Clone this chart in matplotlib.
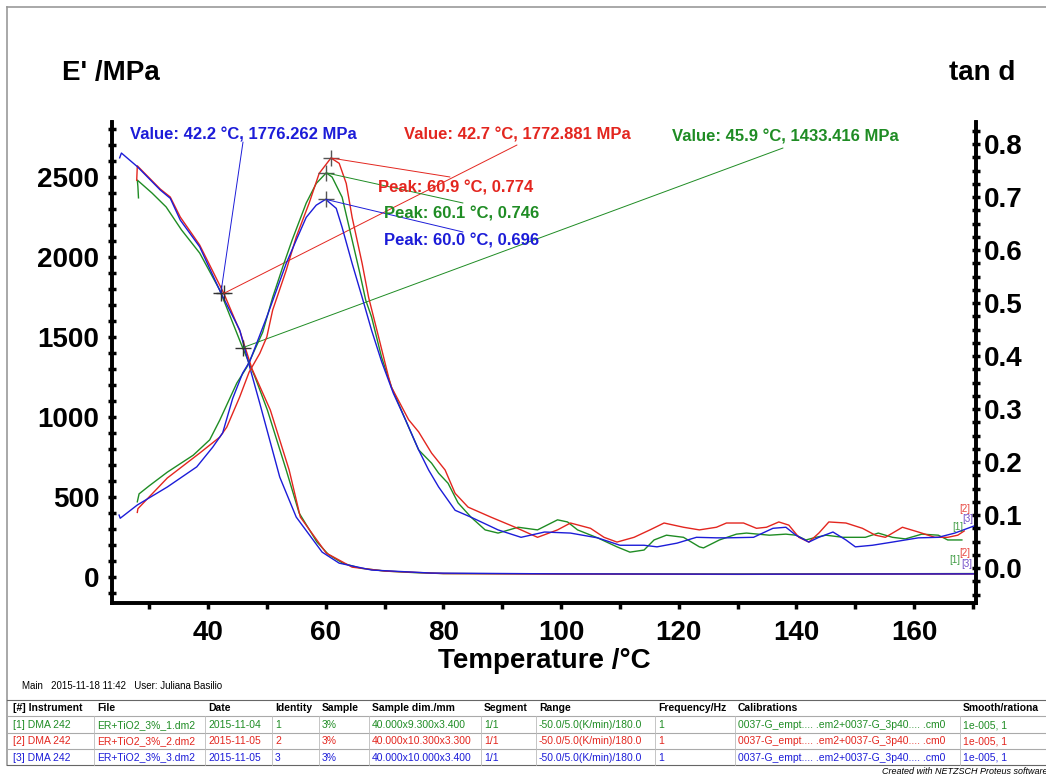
import numpy as np
import matplotlib
matplotlib.use("Agg")
import matplotlib.pyplot as plt
from matplotlib.lines import Line2D
from matplotlib.ticker import MultipleLocator

plt.rcParams['font.family'] = ['Liberation Sans', 'DejaVu Sans']

RED, GREEN, BLUE = '#e3261f', '#1f8c24', '#1c1cd8'

# --- storage modulus E' (MPa) ---
t_e1 = [28.2, 28.1, 28.0, 30.5, 32.9, 35.5, 38.6, 42.0, 45.9, 48.0, 50.1, 53.3, 55.5, 58.5, 60.5, 63.0, 66.0, 70.0, 75.0, 80.0, 100.0, 130.0, 170.5]
e_1 = [2370, 2440, 2481, 2400, 2313, 2170, 2025, 1794, 1433, 1250, 1044, 669, 400, 220, 140, 85, 55, 38, 28, 22, 20, 19, 22]
t_e2 = [27.9, 28.0, 31.9, 33.6, 35.3, 38.6, 42.7, 45.5, 47.5, 50.6, 53.8, 55.7, 60.1, 64.5, 70.2, 80.0, 100.0, 130.0, 170.5]
e_2 = [2480, 2570, 2425, 2375, 2250, 2075, 1773, 1530, 1300, 1044, 669, 375, 150, 62, 37, 22, 19, 17, 20]
t_e3 = [25.0, 25.3, 28.0, 31.9, 33.6, 35.3, 38.6, 42.2, 45.4, 47.1, 48.8, 52.2, 55.0, 59.4, 62.3, 67.8, 78.0, 100.0, 130.0, 170.5]
e_3 = [2620, 2650, 2565, 2419, 2367, 2231, 2064, 1776, 1544, 1312, 1087, 625, 375, 156, 87, 44, 25, 20, 18, 20]

# --- tan d ---
t_t1 = [28.0, 28.3, 30.0, 33.1, 37.5, 40.3, 42.0, 44.9, 46.6, 49.3, 51.0, 52.7, 54.3, 56.7, 58.4, 60.1, 61.1, 62.8, 64.0, 65.7,
        66.8, 67.8, 69.5, 71.2, 74.1, 75.8, 78.0, 79.2, 80.8, 82.5, 84.7, 87.1, 89.3, 92.7, 96.0, 99.4, 101.1, 102.8, 106.2, 109.5,
        111.7, 114.1, 115.8, 117.9, 120.8, 123.5, 124.2, 126.9, 129.8, 131.5, 135.4, 138.2, 139.9, 141.6, 143.3, 145.0, 147.9,
        151.7, 153.9, 156.3, 158.5, 161.3, 164.1, 165.7, 168.1]
tan_1 = [0.125, 0.140, 0.155, 0.181, 0.213, 0.242, 0.279, 0.349, 0.379, 0.445, 0.511, 0.568, 0.619, 0.689, 0.726, 0.746, 0.738,
         0.700, 0.643, 0.562, 0.506, 0.474, 0.398, 0.341, 0.266, 0.223, 0.198, 0.179, 0.160, 0.123, 0.096, 0.072, 0.066, 0.077,
         0.072, 0.091, 0.087, 0.072, 0.057, 0.040, 0.030, 0.034, 0.053, 0.062, 0.058, 0.040, 0.038, 0.053, 0.064, 0.066, 0.062,
         0.064, 0.062, 0.053, 0.058, 0.062, 0.058, 0.058, 0.066, 0.058, 0.055, 0.064, 0.062, 0.053, 0.053]
t_t2 = [28.0, 28.1, 33.1, 38.6, 42.0, 43.2, 45.4, 47.0, 48.8, 50.0, 51.0, 53.3, 55.0, 57.2, 58.9, 60.9, 62.3, 63.5, 64.5, 66.2,
        67.3, 69.0, 70.7, 71.2, 74.1, 75.8, 78.0, 80.3, 82.0, 84.2, 88.1, 92.2, 96.0, 99.4, 101.6, 105.0, 107.3, 109.5, 112.4,
        115.1, 117.5, 120.8, 123.5, 126.4, 128.1, 131.0, 133.2, 134.9, 137.0, 138.7, 140.4, 142.1, 143.8, 145.5, 148.4, 151.2,
        153.4, 155.1, 158.0, 160.7, 163.5, 165.7, 167.4, 168.5]
tan_2 = [0.105, 0.112, 0.170, 0.217, 0.247, 0.266, 0.323, 0.370, 0.405, 0.436, 0.487, 0.562, 0.625, 0.689, 0.745, 0.774, 0.764,
         0.726, 0.662, 0.575, 0.511, 0.436, 0.360, 0.341, 0.280, 0.257, 0.217, 0.185, 0.141, 0.115, 0.096, 0.077, 0.058, 0.072,
         0.085, 0.075, 0.058, 0.049, 0.058, 0.072, 0.085, 0.077, 0.072, 0.077, 0.085, 0.085, 0.075, 0.077, 0.087, 0.081, 0.058,
         0.049, 0.066, 0.087, 0.085, 0.075, 0.062, 0.058, 0.077, 0.068, 0.058, 0.058, 0.062, 0.070]
t_t3 = [24.9, 25.1, 28.0, 33.1, 38.1, 40.8, 42.5, 44.2, 45.9, 47.1, 50.0, 53.3, 55.0, 56.7, 58.4, 60.0, 61.8, 62.8, 64.5, 66.2,
        67.8, 69.5, 71.5, 73.6, 75.8, 77.5, 79.2, 82.0, 84.7, 89.3, 93.2, 97.2, 101.6, 106.2, 110.0, 114.1, 116.3, 119.7, 123.0,
        126.4, 128.1, 132.7, 136.0, 138.2, 139.9, 142.1, 143.8, 146.2, 148.4, 150.0, 152.9, 156.3, 160.7, 164.1, 166.9, 169.1, 170.3]
tan_3 = [0.100, 0.094, 0.119, 0.153, 0.191, 0.228, 0.255, 0.320, 0.368, 0.390, 0.474, 0.575, 0.619, 0.662, 0.685, 0.696, 0.679,
         0.643, 0.575, 0.511, 0.449, 0.390, 0.330, 0.279, 0.223, 0.185, 0.153, 0.109, 0.096, 0.072, 0.058, 0.068, 0.066, 0.057,
         0.043, 0.043, 0.040, 0.047, 0.058, 0.057, 0.057, 0.058, 0.075, 0.077, 0.062, 0.049, 0.058, 0.068, 0.053, 0.040, 0.043,
         0.049, 0.057, 0.058, 0.066, 0.075, 0.080]

# annotated points
val_pts = [(42.2, 1776.262, BLUE), (42.7, 1772.881, RED), (45.9, 1433.416, GREEN)]
peak_pts = [(60.9, 0.774, RED), (60.1, 0.746, GREEN), (60.0, 0.696, BLUE)]

# table
col_heads = ["[#] Instrument", "File", "Date", "Identity", "Sample", "Sample dim./mm", "Segment", "Range",
             "Frequency/Hz", "Calibrations", "Smooth/rationa"]
rows = [
    ["[1] DMA 242", "ER+TiO2_3%_1.dm2", "2015-11-04", "1", "3%", "40.000x9.300x3.400", "1/1",
     "-50.0/5.0(K/min)/180.0", "1", "0037-G_empt.... .em2+0037-G_3p40.... .cm0", "1e-005, 1"],
    ["[2] DMA 242", "ER+TiO2_3%_2.dm2", "2015-11-05", "2", "3%", "40.000x10.300x3.300", "1/1",
     "-50.0/5.0(K/min)/180.0", "1", "0037-G_empt.... .em2+0037-G_3p40.... .cm0", "1e-005, 1"],
    ["[3] DMA 242", "ER+TiO2_3%_3.dm2", "2015-11-05", "3", "3%", "40.000x10.000x3.400", "1/1",
     "-50.0/5.0(K/min)/180.0", "1", "0037-G_empt.... .em2+0037-G_3p40.... .cm0", "1e-005, 1"],
]
row_colors = [GREEN, RED, BLUE]
col_x = [13, 97, 208, 275, 322, 372, 484, 539, 658, 738, 963]

W, H = 1046, 776
fig = plt.figure(figsize=(W / 100, H / 100), dpi=100)
fx = lambda px: px / W
fy = lambda py: 1 - py / H

ax = fig.add_axes([fx(112), fy(603), fx(976) - fx(112), fy(122) - fy(603)])
ax2 = ax.twinx()

for t, e, c in [(t_e1, e_1, GREEN), (t_e2, e_2, RED), (t_e3, e_3, BLUE)]:
    ax.plot(t, e, color=c, lw=1.0)
for t, v, c in [(t_t1, tan_1, GREEN), (t_t2, tan_2, RED), (t_t3, tan_3, BLUE)]:
    ax2.plot(t, v, color=c, lw=1.0)

ax.set_xlim(23.7, 170.5)
ax.set_ylim(-162, 2844)
ax2.set_ylim(-0.066, 0.842)

for a in (ax, ax2):
    a.spines['top'].set_visible(False)
    for s in ('left', 'right', 'bottom'):
        a.spines[s].set_linewidth(2.6)

ax.xaxis.set_major_locator(MultipleLocator(20))
ax.xaxis.set_minor_locator(MultipleLocator(10))
ax.yaxis.set_major_locator(MultipleLocator(500))
ax.yaxis.set_minor_locator(MultipleLocator(100))
ax2.yaxis.set_major_locator(MultipleLocator(0.1))
ax2.yaxis.set_minor_locator(MultipleLocator(0.025))
ax2.yaxis.set_major_formatter(plt.FormatStrFormatter('%.1f'))

ax.tick_params(axis='x', which='both', direction='out', length=4, width=2.5, labelsize=20, pad=8)
ax.tick_params(axis='y', which='both', direction='inout', length=6, width=2.5, labelsize=20, pad=6)
ax2.tick_params(axis='y', which='both', direction='inout', length=6, width=2.5, labelsize=20, pad=3)
for lab in ax.get_xticklabels() + ax.get_yticklabels() + ax2.get_yticklabels():
    lab.set_fontweight('bold')

ax.set_xlabel("Temperature /°C", fontsize=20, fontweight='bold', labelpad=2)
fig.text(fx(62), fy(73), "E' /MPa", fontsize=20, fontweight='bold', va='center', ha='left')
fig.text(fx(1015), fy(73), "tan d", fontsize=20, fontweight='bold', va='center', ha='right')

# value markers, leaders and labels (label left x, y and leader end in figure pixels)
val_layout = [(130, 135, (243, 142)), (404, 135, (517, 145)), (672, 137, (783, 148))]
for (t, e, c), (tx, ty, end) in zip(val_pts, val_layout):
    ax.annotate("", xy=(t, e), xycoords='data', xytext=(fx(end[0]), fy(end[1])), textcoords='figure fraction',
                arrowprops=dict(arrowstyle='-', color=c, lw=0.7, shrinkA=0, shrinkB=0))
    ax.plot(t, e, marker='+', ms=12, mew=1.0, color='#333333')
    fig.text(fx(tx), fy(ty), f"Value: {t:.1f} °C, {e:.3f} MPa", color=c, fontsize=12, fontweight='bold',
             va='center', ha='left')

peak_layout = [(378, 188, (450, 177)), (384, 214, (463, 203)), (384, 241, (463, 232))]
for (t, v, c), (tx, ty, end) in zip(peak_pts, peak_layout):
    ax2.annotate("", xy=(t, v), xycoords='data', xytext=(fx(end[0]), fy(end[1])), textcoords='figure fraction',
                 arrowprops=dict(arrowstyle='-', color=c, lw=0.7, shrinkA=0, shrinkB=0))
    ax2.plot(t, v, marker='+', ms=12, mew=1.0, color='#555555')
    fig.text(fx(tx), fy(ty), f"Peak: {t:.1f} °C, {v:.3f}", color=c, fontsize=12, fontweight='bold',
             va='center', ha='left')

# curve identifiers at the right end
for txt, px, py, c in [("[2]", 965, 509, RED), ("[3]", 968, 519, '#5a2fc0'), ("[1]", 958, 527, GREEN),
                       ("[1]", 955, 560, GREEN), ("[2]", 965, 553, RED), ("[3]", 967, 564, '#5a2fc0')]:
    fig.text(fx(px), fy(py), txt, fontsize=7, color=c, ha='center', va='center', alpha=0.85)

# frame
fig.add_artist(Line2D([fx(7), fx(W)], [fy(7), fy(7)], color='#999999', lw=1.2))
fig.add_artist(Line2D([fx(7), fx(7)], [fy(7), fy(765)], color='#999999', lw=1.2))

# footer / table
fig.text(fx(22), fy(686), "Main   2015-11-18 11:42   User: Juliana Basilio", fontsize=7, va='center')
for py in (700, 716, 733, 749, 765):
    fig.add_artist(Line2D([fx(7), fx(W)], [fy(py), fy(py)], color='#aaaaaa' if py not in (700, 765) else '#666666', lw=0.8))
for cx in col_x[1:]:
    fig.add_artist(Line2D([fx(cx - 3), fx(cx - 3)], [fy(716), fy(765)], color='#bbbbbb', lw=0.6))
for cx, h in zip(col_x, col_heads):
    fig.text(fx(cx), fy(708), h, fontsize=7.5, fontweight='bold', va='center')
for r, (row, c) in enumerate(zip(rows, row_colors)):
    for cx, v in zip(col_x, row):
        fig.text(fx(cx), fy(725 + 16.3 * r), v, fontsize=7.5, color=c, va='center')
fig.text(fx(W + 2), fy(771), "Created with NETZSCH Proteus software", fontsize=6.5, style='italic',
         ha='right', va='center')

fig.savefig("out.png", dpi=100)
